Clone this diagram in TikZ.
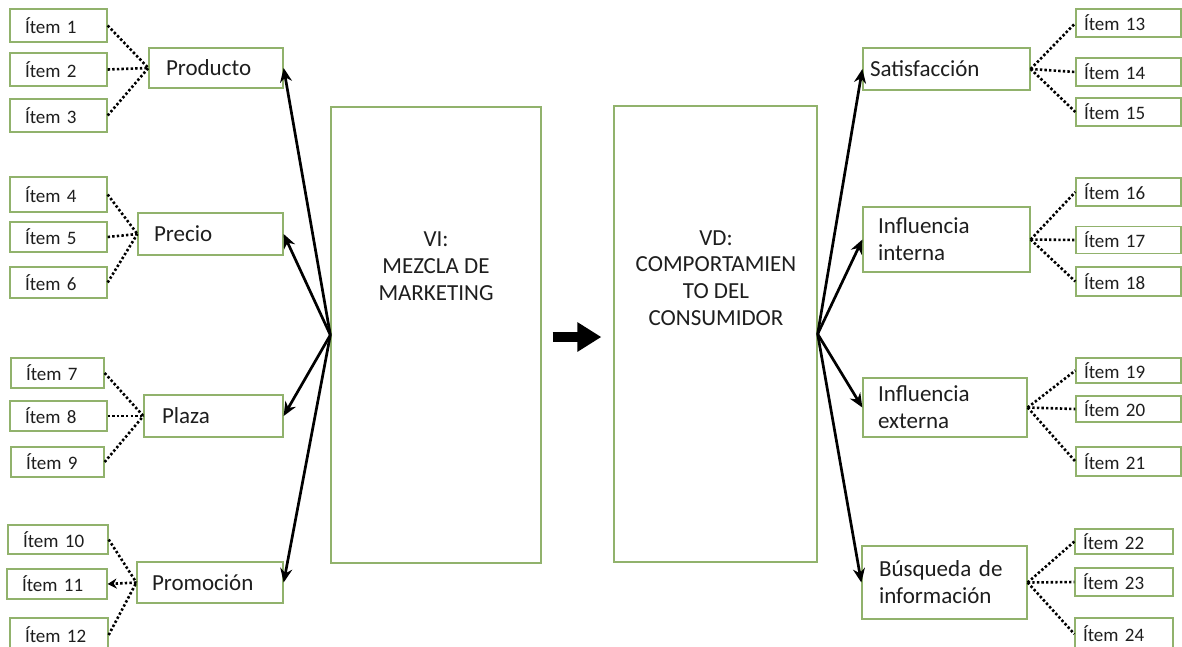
\documentclass[tikz,border=0pt]{standalone}
\usepackage{fontspec}
\setmainfont{Carlito}
\usetikzlibrary{arrows.meta}
\definecolor{boxgreen}{RGB}{145,178,108}
\definecolor{txt}{RGB}{30,30,30}
\tikzset{
  base/.style={draw=boxgreen, line width=1.3pt, fill=white, text=txt, rectangle, align=left},
  itemL/.style={base, font=\fontsize{19}{22}\selectfont, inner xsep=15pt, inner ysep=0pt, text width=#1},
  itemR/.style={base, font=\fontsize{19}{22}\selectfont, inner xsep=8pt, inner ysep=0pt, text width=89pt},
  cat/.style={base, font=\fontsize{23}{27}\selectfont, inner ysep=0pt},
  bigbox/.style={draw=boxgreen, line width=1.3pt, rectangle},
  bigtext/.style={text=txt, align=center, font=\fontsize{23}{26.8}\selectfont},
  dotline/.style={draw=black, line width=2.6pt, dash pattern=on 2.4pt off 2.2pt},
  arr/.style={draw=black, line width=2.7pt, -{Stealth[length=14pt,width=12pt]}},
  bigarr/.style={draw=black, line width=10pt, -{Triangle[length=24pt,width=28pt]}}
}
\begin{document}
\begin{tikzpicture}[x=1pt,y=-1pt]
\useasboundingbox (0,0) rectangle (1182,646);
\clip (0,0) rectangle (1182,646);
\fill[white] (0,0) rectangle (1182,646);

% central boxes
\node[bigbox, minimum width=210pt, minimum height=456pt] (vi) at (436,335) {};
\node[bigbox, minimum width=203pt, minimum height=456pt] (vd) at (715.5,334) {};
\node[bigtext] (vitxt) at (436,266) {VI:\\MEZCLA DE\\MARKETING};
\node[bigtext] (vdtxt) at (716,278) {VD:\\COMPORTAMIEN\\TO DEL\\CONSUMIDOR};

% left categories
\node[cat, inner xsep=17pt, text width=100pt, minimum height=40pt] (prod) at (216,68) {Producto};
\node[cat, inner xsep=16pt, text width=113pt, minimum height=42pt] (prec) at (210.5,234) {Precio};
\node[cat, inner xsep=18pt, text width=103pt, minimum height=42pt] (plaz) at (213.5,416) {Plaza};
\node[cat, inner xsep=15pt, text width=116pt, minimum height=41pt] (prom) at (210,582.5) {Promoción};

% right categories
\node[cat, inner xsep=7pt, text width=153pt, minimum height=42pt] (sat) at (946.5,69) {Satisfacción};
\node[cat, inner xsep=15pt, text width=137pt, minimum height=65pt] (inti) at (946.5,239.5) {Influencia\\interna};
\node[cat, inner xsep=15pt, text width=134pt, minimum height=59pt] (exte) at (945,407.5) {Influencia\\externa};
\node[cat, inner xsep=17pt, text width=131pt, minimum height=73pt] (busq) at (944.5,582.5) {Búsqueda de\\información};

% left items
\node[itemL=67pt, minimum height=33pt] (i1) at (58.5,25.5) {Ítem 1};
\node[itemL=67pt, minimum height=33pt] (i2) at (58.5,69.5) {Ítem 2};
\node[itemL=67pt, minimum height=33pt] (i3) at (58.5,115.5) {Ítem 3};
\node[itemL=67pt, minimum height=35pt] (i4) at (58.5,194.5) {Ítem 4};
\node[itemL=67pt, minimum height=30pt] (i5) at (58.5,237) {Ítem 5};
\node[itemL=67pt, minimum height=31pt] (i6) at (58.5,282.5) {Ítem 6};
\node[itemL=63pt, minimum height=30pt] (i7) at (57.5,373) {Ítem 7};
\node[itemL=67pt, minimum height=30pt] (i8) at (58.5,416) {Ítem 8};
\node[itemL=63pt, minimum height=30pt] (i9) at (57.5,462) {Ítem 9};
\node[itemL=70pt, minimum height=29pt] (i10) at (58,539.5) {Ítem 10};
\node[itemL=70pt, minimum height=30pt] (i11) at (57,584) {Ítem 11};
\node[itemL=68pt, minimum height=34pt] (i12) at (59,635) {Ítem 12};

% right items
\node[itemR, minimum height=28pt] (i13) at (1128.5,23) {Ítem 13};
\node[itemR, minimum height=28pt] (i14) at (1128.5,72) {Ítem 14};
\node[itemR, minimum height=28pt] (i15) at (1128.5,112) {Ítem 15};
\node[itemR, minimum height=28pt] (i16) at (1128.5,192) {Ítem 16};
\node[itemR, minimum height=27pt] (i17) at (1128.5,240) {Ítem 17};
\node[itemR, minimum height=29pt] (i18) at (1128.5,281.5) {Ítem 18};
\node[itemR, minimum height=25pt] (i19) at (1128.5,370.5) {Ítem 19};
\node[itemR, minimum height=26pt] (i20) at (1128.5,409) {Ítem 20};
\node[itemR, minimum height=29pt] (i21) at (1128.5,461.5) {Ítem 21};
\node[itemR, text width=82pt, minimum height=25pt] (i22) at (1124,541.5) {Ítem 22};
\node[itemR, text width=82pt, minimum height=28pt] (i23) at (1124,582) {Ítem 23};
\node[itemR, text width=82pt, minimum height=32pt] (i24) at (1124,634) {Ítem 24};

% dotted links left
\foreach \i in {i1,i2,i3} \draw[dotline] (\i.east) -- (prod.west);
\foreach \i in {i4,i5,i6} \draw[dotline] (\i.east) -- (prec.west);
\foreach \i in {i7,i8,i9} \draw[dotline] (\i.east) -- (plaz.west);
\draw[dotline] (i10.east) -- (prom.west);
\draw[dotline, arrows={-Stealth[length=9pt,width=10pt]}] (prom.west) -- (i11.east);
\draw[dotline] (i12.east) -- (prom.west);

% dotted links right
\foreach \i in {i13,i14,i15} \draw[dotline] (sat.east) -- (\i.west);
\foreach \i in {i16,i17,i18} \draw[dotline] (inti.east) -- (\i.west);
\foreach \i in {i19,i20,i21} \draw[dotline] (exte.east) -- (\i.west);
\foreach \i in {i22,i23,i24} \draw[dotline] (busq.east) -- (\i.west);

% solid arrows
\foreach \c in {prod,prec,plaz,prom} \draw[arr] (vi.west) -- (\c.east);
\foreach \c in {sat,inti,exte,busq} \draw[arr] (vd.east) -- (\c.west);

% big arrow
\draw[bigarr, shorten <=11pt, shorten >=12pt] ([yshift=-2pt]vi.east) -- ([yshift=-2pt]vi.east -| vd.west);
\end{tikzpicture}
\end{document}
